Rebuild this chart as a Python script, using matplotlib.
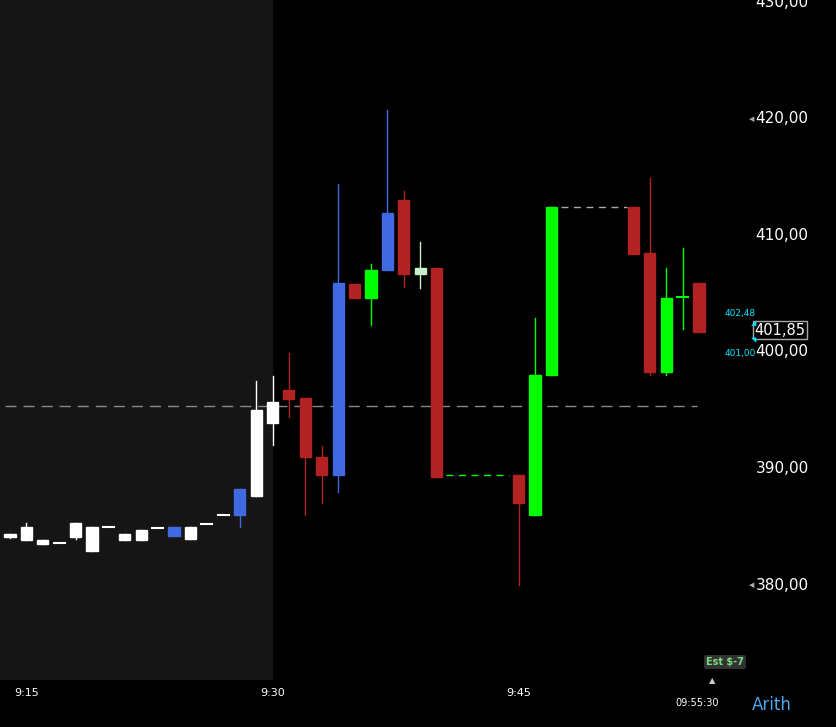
import matplotlib.pyplot as plt
from matplotlib.patches import Rectangle

# minute index from 9:14, OHLC, colour
t = [0, 1, 2, 3, 4, 5, 6, 7, 8, 9, 10, 11, 12, 13, 14, 15, 16, 17, 18, 19, 20,
     21, 22, 23, 24, 25, 26, 31, 32, 33, 38, 39, 40, 41, 42]
opens = [384.4, 385.0, 383.9, 383.6, 385.3, 385.0, 385.0, 384.4, 384.7, 384.9, 385.0,
         385.0, 385.2, 386.0, 386.0, 387.6, 393.9, 396.7, 396.05, 391.0, 389.4,
         405.8, 404.6, 407.0, 413.0, 406.7, 407.2, 389.4, 386.0, 398.0, 412.4,
         408.5, 398.3, 404.7, 405.9]
closes = [384.1, 383.9, 383.5, 383.6, 384.1, 382.9, 385.0, 383.9, 383.9, 384.9, 384.2,
          383.95, 385.2, 386.0, 388.2, 395.0, 395.7, 396.0, 391.0, 389.4, 405.9,
          404.6, 407.0, 411.9, 406.7, 407.2, 389.3, 387.0, 398.0, 412.4, 408.4,
          398.3, 404.6, 404.8, 401.7]
highs = [384.4, 385.3, 383.9, 383.6, 385.3, 385.0, 385.0, 384.4, 384.7, 384.9, 385.0,
         385.0, 385.2, 386.0, 388.2, 397.5, 397.9, 399.9, 396.05, 391.9, 414.4,
         405.8, 407.55, 420.8, 413.8, 409.4, 407.2, 389.4, 402.9, 412.4, 412.4,
         414.9, 407.2, 408.9, 405.9]
lows = [384.0, 383.9, 383.5, 383.6, 383.95, 382.9, 385.0, 383.9, 383.9, 384.9, 384.2,
        383.95, 385.2, 386.0, 385.0, 387.6, 392.0, 394.4, 386.0, 387.0, 388.0,
        404.6, 402.3, 407.0, 405.6, 405.5, 389.3, 380.0, 386.0, 398.0, 408.4,
        398.0, 398.0, 402.0, 401.7]
colors = ['w'] * 10 + ['#4169e1', 'w', 'w', 'w', '#4169e1', 'w', 'w',
          '#b22222', '#b22222', '#b22222', '#4169e1', '#b22222', '#00ff00',
          '#4169e1', '#b22222', '#c8f0c8', '#b22222', '#b22222', '#00ff00',
          '#00ff00', '#b22222', '#b22222', '#00ff00', '#00ff00', '#b22222']

y_ticks = [380, 390, 400, 410, 420, 430]
x_ticks = [1, 16, 31]
x_labels = ['9:15', '9:30', '9:45']

fig = plt.figure(figsize=(8.37, 7.27), dpi=100, facecolor='black')
ax = fig.add_axes([0, 47 / 727, 745 / 837, 680 / 727])
ax.set_facecolor('black')
ax.set_xlim(-0.61, 44.8)
ax.set_ylim(371.85, 430.2)
ax.axvspan(-0.61, 15.95, color='#151515', zorder=0)

w = 0.68
for ti, o, h, l, c, col in zip(t, opens, highs, lows, closes, colors):
    ax.plot([ti, ti], [l, h], color=col, lw=1, zorder=2)
    lo, hi = min(o, c), max(o, c)
    if hi - lo < 0.15:
        ax.plot([ti - w / 2, ti + w / 2], [lo, lo], color=col, lw=1.5, zorder=3)
    else:
        ax.add_patch(Rectangle((ti - w / 2, lo), w, hi - lo, color=col, zorder=3))

ax.plot([-0.3, 41.9], [395.4, 395.4], color='#888888', lw=1, ls=(0, (8, 5)), zorder=1)
ax.plot([26.6, 30.4], [389.4, 389.4], color='#00ff00', lw=1, ls=(0, (5, 4)), zorder=1)
ax.plot([33.6, 37.6], [412.4, 412.4], color='#aaaaaa', lw=1, ls=(0, (5, 4)), zorder=1)

ax.set_xticks([])
ax.set_yticks([])
for s in ax.spines.values():
    s.set_visible(False)

# right price axis
for v in y_ticks:
    fig.text(782 / 837, ax.transData.transform((0, v))[1] / 727, f'{v},00',
             color='white', fontsize=11, ha='center', va='center')
for v in (420, 380):
    fig.text(752 / 837, ax.transData.transform((0, v))[1] / 727, '◀', color='#aaaaaa',
             fontsize=5, ha='center', va='center')
yp = ax.transData.transform((0, 401.85))[1] / 727
fig.text(780 / 837, yp, '401,85', color='white', fontsize=10.5, ha='center', va='center',
         bbox=dict(facecolor='black', edgecolor='#aaaaaa', pad=1.2))
fig.text(740 / 837, ax.transData.transform((0, 403.3))[1] / 727, '402,48', color='#00e5ff',
         fontsize=6.5, ha='center', va='center')
fig.text(740 / 837, ax.transData.transform((0, 399.9))[1] / 727, '401,00', color='#00e5ff',
         fontsize=6.5, ha='center', va='center')
for v in (402.48, 401.0):
    fig.text(754 / 837, ax.transData.transform((0, v))[1] / 727, '◢' if v > 402 else '◥',
             color='#00e5ff', fontsize=5, ha='center', va='center')

# time axis
for xt, lab in zip(x_ticks, x_labels):
    xp = ax.transData.transform((xt, 0))[0] / 837
    fig.text(xp, 1 - 693 / 727, lab, color='white', fontsize=8, ha='center', va='center')
fig.text(697 / 837, 1 - 703 / 727, '09:55:30', color='white', fontsize=7, ha='center', va='center')
fig.text(712 / 837, 1 - 681 / 727, '▲', color='#cccccc', fontsize=6, ha='center', va='center')
fig.text(725 / 837, 1 - 662 / 727, 'Est $-7', color='#7ddc7d', fontsize=7, ha='center', va='center',
         fontweight='bold', bbox=dict(boxstyle='round,pad=0.2', facecolor='#333333', edgecolor='none'))
fig.text(772 / 837, 1 - 705 / 727, 'Arith', color='#4da6e8', fontsize=12, ha='center', va='center')

fig.savefig('out.png', dpi=100, facecolor='black')
